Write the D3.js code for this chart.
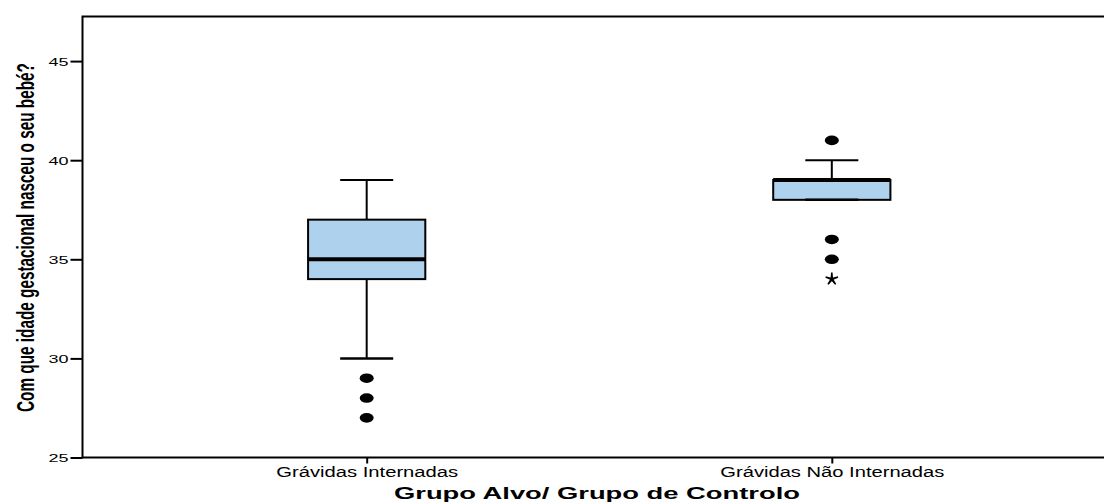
<!DOCTYPE html>
<html>
<head>
<meta charset="utf-8">
<script src="https://cdn.jsdelivr.net/npm/d3@7"></script>
<style>
  html, body { margin: 0; padding: 0; background: #fff; }
  svg { display: block; }
  text { font-family: "Liberation Sans", Arial, sans-serif; fill: #000; }
</style>
</head>
<body>
<svg id="chart" width="1104" height="504"></svg>
<script>
// Gestational age at birth, by group (box plot summary)
const categories = ["Grávidas Internadas", "Grávidas Não Internadas"];
const whiskerLow  = [30, 38];
const q1          = [34, 38];
const median      = [35, 39];
const q3          = [37, 39];
const whiskerHigh = [39, 40];
const outliers    = [[29, 28, 27], [41, 36, 35]];
const extremes    = [[], [34]];
const yTicks      = [25, 30, 35, 40, 45];

const yTitle = "Com que idade gestacional nasceu o seu bebé?";
const xTitle = "Grupo Alvo/ Grupo de Controlo";

const svg = d3.select("#chart");
const plot = { left: 82.5, top: 16.5, right: 1116, bottom: 457.5 };

const y = d3.scaleLinear().domain([25, 47.25]).range([plot.bottom, plot.top]);
const x = d3.scalePoint().domain(categories).range([plot.left, plot.right]).padding(0.611);
const step = x.step();
const boxW = step * 0.252;
const capHalf = step * 0.057;

// plot frame (right side runs past the canvas)
svg.append("rect")
  .attr("x", plot.left).attr("y", plot.top)
  .attr("width", plot.right + 20 - plot.left).attr("height", plot.bottom - plot.top)
  .attr("fill", "none").attr("stroke", "#000").attr("stroke-width", 2);

// y axis
const yAxis = d3.axisLeft(y).tickValues(yTicks).tickSize(12).tickPadding(2).tickFormat(d3.format("d"));
const gy = svg.append("g").attr("transform", `translate(${plot.left},0)`).call(yAxis);
gy.select(".domain").remove();
gy.selectAll(".tick line").attr("stroke", "#000").attr("stroke-width", 2);
gy.selectAll(".tick text")
  .attr("font-size", 10).attr("dy", "0.36em")
  .attr("textLength", 20).attr("lengthAdjust", "spacingAndGlyphs")
  .attr("transform", "translate(0,0.5)");

// x axis
const xAxis = d3.axisBottom(x).tickSize(6).tickPadding(4);
const gx = svg.append("g").attr("transform", `translate(0,${plot.bottom})`).call(xAxis);
gx.select(".domain").remove();
gx.selectAll(".tick line").attr("stroke", "#000").attr("stroke-width", 2);
const xLabelLen = { "Grávidas Internadas": 182, "Grávidas Não Internadas": 224 };
gx.selectAll(".tick text")
  .attr("font-size", 14).attr("dy", "0.71em")
  .attr("textLength", d => xLabelLen[d]).attr("lengthAdjust", "spacingAndGlyphs");

// boxes
const groups = svg.append("g").selectAll("g.box")
  .data(categories.map((c, i) => ({ c, i })))
  .join("g").attr("class", "box")
  .attr("transform", d => `translate(${x(d.c)},0)`);

// whisker stems
groups.append("line")
  .attr("x1", 0).attr("x2", 0)
  .attr("y1", d => y(q3[d.i])).attr("y2", d => y(whiskerHigh[d.i]))
  .attr("stroke", "#000").attr("stroke-width", 2);
groups.append("line")
  .attr("x1", 0).attr("x2", 0)
  .attr("y1", d => y(q1[d.i])).attr("y2", d => y(whiskerLow[d.i]))
  .attr("stroke", "#000").attr("stroke-width", 2);

// box body
groups.append("rect")
  .attr("x", -boxW / 2).attr("width", boxW)
  .attr("y", d => y(q3[d.i])).attr("height", d => y(q1[d.i]) - y(q3[d.i]))
  .attr("fill", "#aed1ee").attr("stroke", "#000").attr("stroke-width", 2);

// whisker caps
groups.append("line")
  .attr("x1", -capHalf).attr("x2", capHalf)
  .attr("y1", d => y(whiskerHigh[d.i])).attr("y2", d => y(whiskerHigh[d.i]))
  .attr("stroke", "#000").attr("stroke-width", 2);
groups.append("line")
  .attr("x1", -capHalf).attr("x2", capHalf)
  .attr("y1", d => y(whiskerLow[d.i])).attr("y2", d => y(whiskerLow[d.i]))
  .attr("stroke", "#000").attr("stroke-width", 2.5);

// median
groups.append("line")
  .attr("x1", -boxW / 2).attr("x2", boxW / 2)
  .attr("y1", d => y(median[d.i])).attr("y2", d => y(median[d.i]))
  .attr("stroke", "#000").attr("stroke-width", 4);

// outliers (circles)
groups.selectAll("ellipse")
  .data(d => outliers[d.i])
  .join("ellipse")
  .attr("cx", 0).attr("cy", v => y(v))
  .attr("rx", 7).attr("ry", 4.8)
  .attr("fill", "#000");

// extreme values (asterisk)
const asterisk = {
  draw(ctx, size) {
    const r = Math.sqrt(size) / 2;
    for (let k = 0; k < 5; k++) {
      const a = -Math.PI / 2 + k * 2 * Math.PI / 5;
      const w = 1.3;
      const px = Math.cos(a), py = Math.sin(a);
      const nx = -py * w, ny = px * w;
      ctx.moveTo(nx, ny);
      ctx.lineTo(px * r + nx * 0.6, py * r + ny * 0.6);
      ctx.lineTo(px * r - nx * 0.6, py * r - ny * 0.6);
      ctx.lineTo(-nx, -ny);
      ctx.closePath();
    }
  }
};
groups.selectAll("path.extreme")
  .data(d => extremes[d.i])
  .join("path").attr("class", "extreme")
  .attr("transform", v => `translate(0,${y(v)})`)
  .attr("d", d3.symbol(asterisk, 170))
  .attr("fill", "#000");

// y title: condensed tall lettering, fitted to the axis height
const yt = svg.append("text")
  .attr("text-anchor", "middle")
  .attr("font-size", 15).attr("font-weight", "bold")
  .text(yTitle);
const natural = yt.node().getComputedTextLength();
const sx = 349 / natural, sy = 1.65;
yt.attr("transform", `translate(34,${(63 + 412) / 2}) rotate(-90) scale(${sx},${sy})`);

// x title
svg.append("text")
  .attr("x", 597).attr("y", 499)
  .attr("text-anchor", "middle")
  .attr("font-size", 17).attr("font-weight", "bold")
  .attr("textLength", 406).attr("lengthAdjust", "spacingAndGlyphs")
  .text(xTitle);
</script>
</body>
</html>
